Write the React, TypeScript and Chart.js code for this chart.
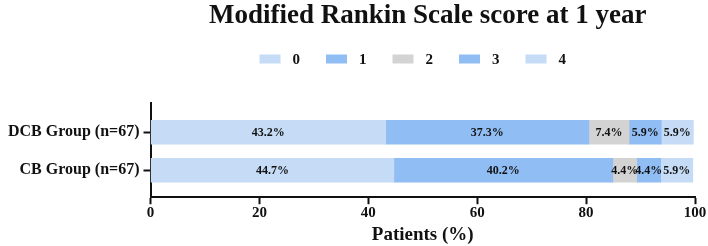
import React, { useEffect, useRef } from "react";
import { Chart, registerables } from "chart.js";

Chart.register(...registerables);

// Study groups (top to bottom) and mRS score categories
const groups = ["DCB Group (n=67)", "CB Group (n=67)"];
const scores = ["0", "1", "2", "3", "4"];

// Percent of patients per score, one array per group
const dcbPercent = [43.2, 37.3, 7.4, 5.9, 5.9];
const cbPercent = [44.7, 40.2, 4.4, 4.4, 5.9];

const xTicks = [0, 20, 40, 60, 80, 100];

const chartTitle = "Modified Rankin Scale score at 1 year";

const scoreColors = ["#c6dcf6", "#90bdf4", "#d3d3d3", "#90bdf4", "#c6dcf6"];

const serif = "'Liberation Serif', 'Times New Roman', serif";
const ink = "#111";

// Writes each segment's percentage in the middle of the segment
const segmentLabels = {
  id: "segmentLabels",
  afterDatasetsDraw(chart: any) {
    const ctx = chart.ctx;
    ctx.save();
    ctx.font = `bold 12px ${serif}`;
    ctx.fillStyle = ink;
    ctx.textAlign = "center";
    ctx.textBaseline = "middle";
    chart.data.datasets.forEach((ds: any, di: number) => {
      const meta = chart.getDatasetMeta(di);
      meta.data.forEach((el: any, i: number) => {
        const v = ds.data[i].x;
        const cx = (el.x + el.base) / 2;
        ctx.fillText(`${v.toFixed(1)}%`, cx, el.y + 1);
      });
    });
    ctx.restore();
  },
};

// Title and a single-row legend centred over the plot area
const header = {
  id: "header",
  afterDraw(chart: any) {
    const { ctx, chartArea } = chart;
    const mid = (chartArea.left + chartArea.right) / 2;
    ctx.save();
    ctx.fillStyle = ink;
    ctx.textBaseline = "alphabetic";
    ctx.textAlign = "center";
    ctx.font = `bold 27px ${serif}`;
    ctx.fillText(chartTitle, mid + 5, 23);

    ctx.font = `bold 15px ${serif}`;
    const boxW = 21;
    const boxH = 9;
    const textGap = 12;
    const itemGap = 26;
    const items = chart.data.datasets.map((ds: any) => ({
      text: ds.label,
      color: ds.backgroundColor,
      w: boxW + textGap + ctx.measureText(ds.label).width,
    }));
    const total =
      items.reduce((s: number, it: any) => s + it.w, 0) + itemGap * (items.length - 1);
    let x = mid - 10 - total / 2;
    const cy = 59;
    ctx.textAlign = "left";
    ctx.textBaseline = "middle";
    items.forEach((it: any) => {
      ctx.fillStyle = it.color;
      ctx.fillRect(x, cy - boxH / 2, boxW, boxH);
      ctx.fillStyle = ink;
      ctx.fillText(it.text, x + boxW + textGap, cy + 1);
      x += it.w + itemGap;
    });
    ctx.restore();
  },
};

export default function App() {
  const canvasRef = useRef<HTMLCanvasElement | null>(null);

  useEffect(() => {
    document.body.style.margin = "0";
    const canvas = canvasRef.current;
    if (!canvas) return;

    const datasets = scores.map((s, i) => ({
      label: s,
      data: [
        { x: dcbPercent[i], y: 1 },
        { x: cbPercent[i], y: 2 },
      ],
      backgroundColor: scoreColors[i],
      borderWidth: 0,
      maxBarThickness: 24,
      barPercentage: 1,
      categoryPercentage: 1,
      grouped: false,
    }));

    const chart = new Chart(canvas, {
      type: "bar",
      data: { datasets },
      plugins: [segmentLabels, header],
      options: {
        indexAxis: "y",
        animation: false,
        responsive: false,
        maintainAspectRatio: false,
        layout: { padding: { left: 4, right: 13, top: 103, bottom: 0 } },
        plugins: {
          title: { display: false },
          legend: { display: false },
          tooltip: { enabled: false },
        },
        scales: {
          x: {
            type: "linear",
            stacked: true,
            min: 0,
            max: 100,
            afterBuildTicks: (axis: any) => {
              axis.ticks = xTicks.map((v) => ({ value: v }));
            },
            border: { display: true, color: ink, width: 2 },
            grid: {
              drawOnChartArea: false,
              drawTicks: true,
              tickLength: 7,
              tickWidth: 2,
              tickColor: ink,
            },
            ticks: {
              color: ink,
              padding: 0,
              maxRotation: 0,
              font: { family: serif, size: 15, weight: "bold" },
            },
            title: {
              display: true,
              text: "Patients (%)",
              color: ink,
              font: { family: serif, size: 19, weight: "bold" },
              padding: { top: 1, bottom: 0 },
            },
          },
          y: {
            type: "linear",
            stacked: false,
            offset: false,
            reverse: true,
            min: 0.23,
            max: 2.71,
            afterBuildTicks: (axis: any) => {
              axis.ticks = groups.map((_, i) => ({ value: i + 1 }));
            },
            border: { display: true, color: ink, width: 2 },
            grid: {
              offset: false,
              drawOnChartArea: false,
              drawTicks: true,
              tickLength: 7,
              tickWidth: 2,
              tickColor: ink,
            },
            ticks: {
              color: ink,
              padding: 4,
              font: { family: serif, size: 16, weight: "bold" },
              callback: (v: any) => groups[Math.round(Number(v)) - 1] ?? "",
            },
          },
        },
      },
    });

    return () => chart.destroy();
  }, []);

  return (
    <div style={{ width: 708, height: 246, background: "#fff" }}>
      <canvas ref={canvasRef} width={708} height={246} style={{ display: "block" }} />
    </div>
  );
}
